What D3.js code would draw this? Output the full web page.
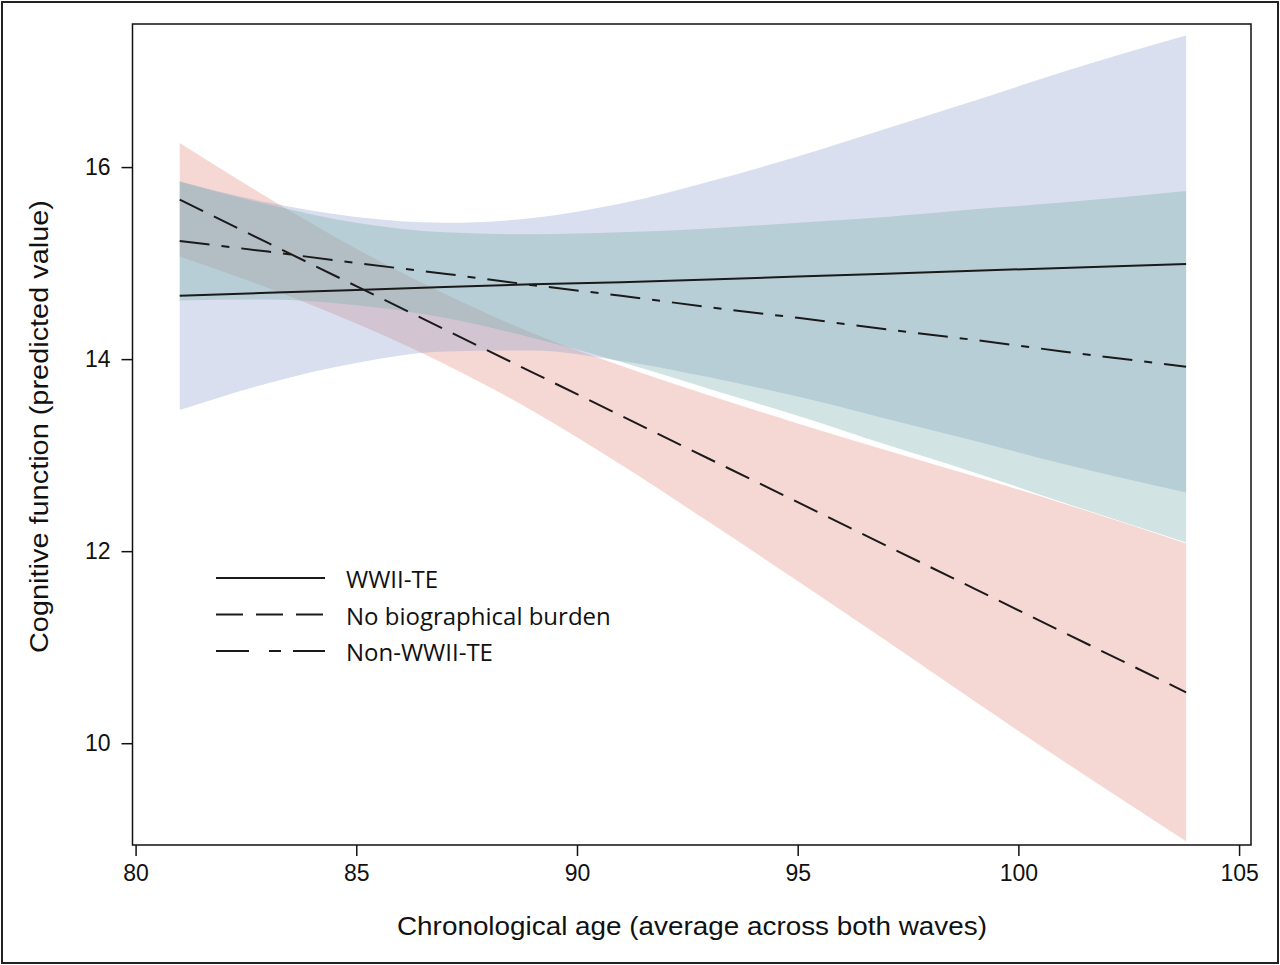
<!DOCTYPE html>
<html lang="en">
<head>
    <meta charset="UTF-8">
    <title>Cognitive function by chronological age</title>
    <script src="https://d3js.org/d3.v7.min.js"></script>
    <style>
        body {
            margin: 0;
            background: #fff;
        }
        .axis text {
            font-family: "Liberation Sans", Arial, sans-serif;
            font-size: 23px;
            fill: #111;
        }
        .axis path, .axis line {
            stroke: #111;
            stroke-width: 1.5px;
        }
        .legend text {
            font-family: "Open Sans", Lato, sans-serif;
            font-size: 24px;
            fill: #111;
        }
    </style>
</head>
<body>
    <div id="chart"></div>

    <script>
        // ages at which the fitted values and CI bounds were read
        const ages = [81, 83, 85, 87, 89, 91, 93, 95, 97, 99, 101, 103.8];

        // WWII-TE (solid line, blue band)
        const wwiiFit = [14.66, 14.69, 14.72, 14.75, 14.78, 14.80, 14.83, 14.86, 14.89, 14.92, 14.95, 14.99];
        const wwiiHi  = [15.85, 15.63, 15.48, 15.42, 15.47, 15.62, 15.85, 16.11, 16.40, 16.69, 16.99, 17.37];
        const wwiiLo  = [13.47, 13.75, 13.96, 14.08, 14.09, 13.98, 13.81, 13.61, 13.38, 13.15, 12.91, 12.61];

        // No biographical burden (dashed line, red band)
        const noneFit = [15.66, 15.21, 14.76, 14.31, 13.86, 13.41, 12.96, 12.51, 12.06, 11.61, 11.16, 10.53];
        const noneHi  = [16.25, 15.68, 15.15, 14.68, 14.27, 13.93, 13.62, 13.33, 13.05, 12.78, 12.50, 12.08];
        const noneLo  = [15.07, 14.74, 14.37, 13.95, 13.46, 12.90, 12.30, 11.69, 11.07, 10.44, 9.82, 8.98];

        // Non-WWII-TE (dash-dot line, teal band)
        const otherFit = [15.23, 15.12, 15.00, 14.89, 14.77, 14.66, 14.54, 14.43, 14.31, 14.20, 14.08, 13.92];
        const otherHi  = [15.85, 15.61, 15.42, 15.32, 15.30, 15.32, 15.36, 15.42, 15.48, 15.56, 15.63, 15.75];
        const otherLo  = [14.61, 14.62, 14.56, 14.43, 14.22, 13.97, 13.69, 13.41, 13.11, 12.82, 12.51, 12.09];

        const xTicks = [80, 85, 90, 95, 100, 105];
        const yTicks = [10, 12, 14, 16];

        const width = 1280;
        const height = 965;
        const plot = { left: 132.5, right: 1251, top: 24, bottom: 845 };

        const svg = d3.select("#chart")
            .append("svg")
            .attr("width", width)
            .attr("height", height);

        // outer border of the picture
        svg.append("rect")
            .attr("x", 2).attr("y", 2)
            .attr("width", width - 4).attr("height", height - 4)
            .attr("fill", "none")
            .attr("stroke", "#222")
            .attr("stroke-width", 2);

        const x = d3.scaleLinear()
            .domain([79.93, 105.27])
            .range([plot.left, plot.right]);

        const y = d3.scaleLinear()
            .domain([8.94, 17.49])
            .range([plot.bottom, plot.top]);

        // bands: drawn red first, then blue, then teal (semi transparent)
        const bands = [
            { hi: noneHi, lo: noneLo, color: "#e28d81" },
            { hi: wwiiHi, lo: wwiiLo, color: "#92a4ce" },
            { hi: otherHi, lo: otherLo, color: "#7cafac" }
        ];

        const area = d3.area()
            .x(d => x(d.age))
            .y0(d => y(d.lo))
            .y1(d => y(d.hi))
            .curve(d3.curveMonotoneX);

        bands.forEach(b => {
            const pts = ages.map((a, i) => ({ age: a, lo: b.lo[i], hi: b.hi[i] }));
            svg.append("path")
                .datum(pts)
                .attr("d", area)
                .attr("fill", b.color)
                .attr("fill-opacity", 0.35);
        });

        // fitted lines
        const lines = [
            { name: "WWII-TE", fit: wwiiFit, dash: null },
            { name: "No biographical burden", fit: noneFit, dash: "26,12" },
            { name: "Non-WWII-TE", fit: otherFit, dash: "30,12,8,12" }
        ];

        const line = d3.line()
            .x(d => x(d.age))
            .y(d => y(d.v));

        lines.forEach(l => {
            svg.append("path")
                .datum(ages.map((a, i) => ({ age: a, v: l.fit[i] })))
                .attr("d", line)
                .attr("fill", "none")
                .attr("stroke", "#1a1a1a")
                .attr("stroke-width", 2)
                .attr("stroke-dasharray", l.dash);
        });

        // plot frame
        svg.append("rect")
            .attr("x", plot.left).attr("y", plot.top)
            .attr("width", plot.right - plot.left)
            .attr("height", plot.bottom - plot.top)
            .attr("fill", "none")
            .attr("stroke", "#111")
            .attr("stroke-width", 1.5);

        // axes
        svg.append("g")
            .attr("class", "axis")
            .attr("transform", `translate(0,${plot.bottom})`)
            .call(d3.axisBottom(x).tickValues(xTicks).tickSize(11).tickPadding(9))
            .call(g => g.select(".domain").remove());

        svg.append("g")
            .attr("class", "axis")
            .attr("transform", `translate(${plot.left},0)`)
            .call(d3.axisLeft(y).tickValues(yTicks).tickSize(11).tickPadding(11))
            .call(g => g.select(".domain").remove());

        // axis titles
        svg.append("text")
            .attr("x", (397 + 987) / 2)
            .attr("y", 935)
            .attr("text-anchor", "middle")
            .attr("textLength", 590)
            .attr("lengthAdjust", "spacingAndGlyphs")
            .style("font-family", "'Liberation Sans', Arial, sans-serif")
            .style("font-size", "26px")
            .style("fill", "#111")
            .text("Chronological age (average across both waves)");

        svg.append("text")
            .attr("transform", `translate(48,${(200 + 653) / 2}) rotate(-90)`)
            .attr("text-anchor", "middle")
            .attr("textLength", 453)
            .attr("lengthAdjust", "spacingAndGlyphs")
            .style("font-family", "'Liberation Sans', Arial, sans-serif")
            .style("font-size", "26px")
            .style("fill", "#111")
            .text("Cognitive function (predicted value)");

        // legend
        const legend = svg.selectAll(".legend")
            .data(lines)
            .enter()
            .append("g")
            .attr("class", "legend")
            .attr("transform", (d, i) => `translate(216,${578 + i * 36.5})`);

        legend.append("line")
            .attr("x1", 0).attr("x2", 109)
            .attr("y1", 0).attr("y2", 0)
            .attr("stroke", "#1a1a1a")
            .attr("stroke-width", 2)
            .attr("stroke-dasharray", (d, i) => i === 0 ? null : (i === 1 ? "27,13" : "33,20,12,12"));

        legend.append("text")
            .attr("x", 130)
            .attr("y", 10)
            .text(d => d.name);
    </script>
</body>
</html>
